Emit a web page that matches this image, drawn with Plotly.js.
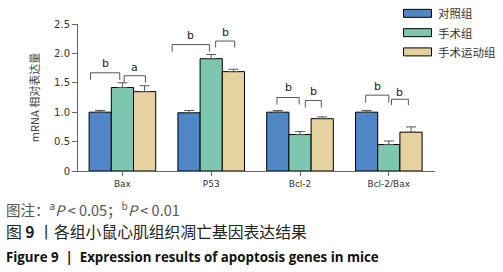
<!DOCTYPE html>
<html>
<head>
<meta charset="utf-8">
<script src="https://cdn.plot.ly/plotly-3.0.1.min.js"></script>
<style>html,body{margin:0;padding:0;background:#fff;}#chart{width:503px;height:272px;}</style>
</head>
<body>
<div id="chart"></div>
<script>
const categories = ['Bax', 'P53', 'Bcl-2', 'Bcl-2/Bax'];
const groups = ['对照组', '手术组', '手术运动组'];
const control = [1.00, 0.99, 1.00, 1.00];
const controlErr = [0.03, 0.04, 0.03, 0.03];
const surgery = [1.42, 1.91, 0.62, 0.45];
const surgeryErr = [0.08, 0.07, 0.05, 0.06];
const exercise = [1.35, 1.69, 0.89, 0.66];
const exerciseErr = [0.10, 0.04, 0.03, 0.09];
const sigLetters = [['b', 'a'], ['b', 'b'], ['b', 'b'], ['b', 'b']];
const yTickVals = [0, 0.5, 1.0, 1.5, 2.0, 2.5];
const yTickText = ['0', '0.5', '1.0', '1.5', '2.0', '2.5'];

// bracket layout: [x0 offset, x1 offset, top y, leg bottom y, letter y]
const bracketLayout = [
  [[-0.36, -0.03, 1.67, 1.55, 1.83], [0.02, 0.26, 1.62, 1.50, 1.76]],
  [[-0.44, -0.02, 2.15, 2.03, 2.30], [0.05, 0.265, 2.21, 2.10, 2.36]],
  [[-0.26, -0.01, 1.25, 1.13, 1.42], [0.06, 0.24, 1.20, 1.08, 1.36]],
  [[-0.26, 0.00, 1.29, 1.16, 1.44], [0.03, 0.22, 1.22, 1.12, 1.34]]
];

const colors = ['#4F86C6', '#7DC7B1', '#E6D29F'];
const values = [control, surgery, exercise];
const errs = [controlErr, surgeryErr, exerciseErr];

const W = 503, H = 272;
const M = {l: 78, r: 68, t: 24, b: 100.5};
const pw = W - M.l - M.r, ph = H - M.t - M.b;
const px = x => (x - M.l) / pw;
const py = y => (H - M.b - y) / ph;

const traces = groups.map((g, i) => ({
  type: 'bar',
  name: g,
  x: categories,
  y: values[i],
  marker: {color: colors[i], line: {color: '#000', width: 1}},
  error_y: {type: 'data', symmetric: false, array: errs[i], arrayminus: categories.map(() => 0),
            color: '#555', thickness: 1, width: 5},
  showlegend: false,
  hoverinfo: 'skip'
}));

const shapes = [];
const annotations = [];
bracketLayout.forEach((brs, ci) => {
  brs.forEach((b, bi) => {
    const x0 = ci + b[0], x1 = ci + b[1];
    shapes.push({type: 'path', xref: 'x', yref: 'y',
      path: `M${x0},${b[3]} L${x0},${b[2]} L${x1},${b[2]} L${x1},${b[3]}`,
      line: {color: '#555', width: 1}});
    annotations.push({xref: 'x', yref: 'y', x: (x0 + x1) / 2, y: b[4], text: sigLetters[ci][bi],
      showarrow: false, font: {family: 'DejaVu Sans', size: 11, color: '#222'}});
  });
});

// manual legend
const legRows = [13.3, 32.7, 52];
groups.forEach((g, i) => {
  shapes.push({type: 'rect', xref: 'paper', yref: 'paper',
    x0: px(403.5), x1: px(431.5), y0: py(legRows[i] - 4), y1: py(legRows[i] + 4),
    fillcolor: colors[i], line: {color: '#000', width: 1}});
  annotations.push({xref: 'paper', yref: 'paper', x: px(436), y: py(legRows[i]), xanchor: 'left', yanchor: 'middle',
    text: g, showarrow: false, font: {family: 'Noto Sans CJK SC', size: 11.5, color: '#333'}});
});

// captions
annotations.push({xref: 'paper', yref: 'paper', x: px(4), y: py(209.5), xanchor: 'left', yanchor: 'middle',
  text: '图注：<sup>a</sup><i>P</i> &lt; 0.05；<sup>b</sup><i>P</i> &lt; 0.01', showarrow: false,
  font: {family: 'Noto Sans CJK SC', size: 14.5, color: '#555'}});
annotations.push({xref: 'paper', yref: 'paper', x: px(4), y: py(232.5), xanchor: 'left', yanchor: 'middle',
  text: '图 <b>9</b> 丨各组小鼠心肌组织凋亡基因表达结果', showarrow: false,
  font: {family: 'Noto Sans CJK SC', size: 15.8, color: '#222'}});
annotations.push({xref: 'paper', yref: 'paper', x: px(4), y: py(257.5), xanchor: 'left', yanchor: 'middle',
  text: '<b>Figure 9  |  Expression results of apoptosis genes in mice</b>', showarrow: false,
  font: {family: 'Open Sans', size: 13.3, color: '#111'}});

const layout = {
  width: W, height: H,
  margin: M,
  paper_bgcolor: '#fff', plot_bgcolor: '#fff',
  barmode: 'group', bargap: 0.25, bargroupgap: 0,
  font: {family: 'DejaVu Sans', size: 9.5, color: '#333'},
  xaxis: {range: [-0.5, 3.52], showline: true, linecolor: '#666', linewidth: 1,
    ticks: 'outside', ticklen: 4, tickcolor: '#666', showgrid: false, zeroline: false,
    tickfont: {family: 'DejaVu Sans', size: 9, color: '#333'}, fixedrange: true},
  yaxis: {range: [0, 2.5], tickvals: yTickVals, ticktext: yTickText, showline: true, linecolor: '#666', linewidth: 1,
    ticks: 'outside', ticklen: 5, tickcolor: '#666', showgrid: false, zeroline: false,
    tickfont: {family: 'DejaVu Sans', size: 10, color: '#333'},
    title: {text: 'mRNA 相对表达量', font: {family: 'Noto Sans CJK SC', size: 11, color: '#444'}, standoff: 12}},
  shapes: shapes,
  annotations: annotations
};

Plotly.newPlot('chart', traces, layout, {staticPlot: true, displayModeBar: false});
</script>
</body>
</html>
